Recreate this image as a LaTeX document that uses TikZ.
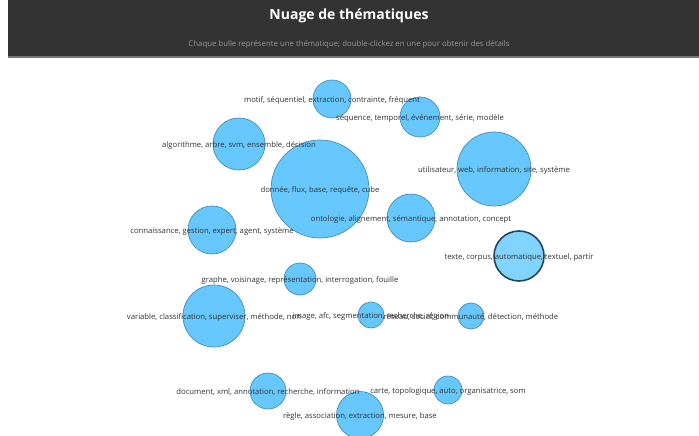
\documentclass[tikz,border=0pt]{standalone}
\usepackage{fontspec}
\setmainfont{Open Sans}
\usepackage{xcolor}
\definecolor{headerbg}{RGB}{51,51,51}
\definecolor{headerline}{RGB}{120,120,120}
\definecolor{subgray}{RGB}{150,150,150}
\definecolor{bubblefill}{RGB}{102,200,255}
\definecolor{bubbleedge}{RGB}{70,140,185}
\definecolor{activefill}{RGB}{128,212,255}
\definecolor{activeedge}{RGB}{38,70,90}
\definecolor{labelgray}{RGB}{51,51,51}

\tikzset{
  bubble/.style={circle, draw=bubbleedge, fill=bubblefill, line width=0.7pt, inner sep=0pt},
  activebubble/.style={bubble, fill=activefill, draw=activeedge, line width=1.6pt},
  themelabel/.style={font=\fontsize{7.7}{9}\selectfont, text=labelgray, inner sep=0pt,
    yshift=-1pt}
}

\begin{document}
\begin{tikzpicture}[x=1pt, y=-1pt]
    %% 1 unit = 1 px of the 699 x 436 page, y grows downwards
    \useasboundingbox (0,0) rectangle (699,436);

    % ---- HEADER ----
    \fill[headerbg] (8,0) rectangle (699,57);
    \draw[headerline, line width=1.5pt] (8,57) -- (699,57);
    \node[font=\bfseries\fontsize{14}{17}\selectfont, text=white] (title) at (349,16)
      {Nuage de thématiques};
    \node[font=\fontsize{7.8}{9}\selectfont, text=subgray] (subtitle) at (349,44)
      {Chaque bulle représente une thématique; double-clickez en une pour obtenir des détails};

    % ---- BUBBLES ----
    \node[bubble, minimum size=38] (motif)        at (332, 99)  {};
    \node[bubble, minimum size=40] (sequence)     at (420,117)  {};
    \node[bubble, minimum size=52] (algorithme)   at (239,144)  {};
    \node[bubble, minimum size=98] (donnee)       at (320,189)  {};
    \node[bubble, minimum size=74] (utilisateur)  at (494,169)  {};
    \node[bubble, minimum size=48] (ontologie)    at (411,218)  {};
    \node[bubble, minimum size=48] (connaissance) at (212,230)  {};
    \node[activebubble, minimum size=50] (texte)  at (519,256)  {};
    \node[bubble, minimum size=32] (graphe)       at (300,279)  {};
    \node[bubble, minimum size=62] (variable)     at (214,316)  {};
    \node[bubble, minimum size=26] (image)        at (371,315)  {};
    \node[bubble, minimum size=26] (reseau)       at (471,316)  {};
    \node[bubble, minimum size=36] (document)     at (268,391)  {};
    \node[bubble, minimum size=28] (carte)        at (448,390)  {};
    \node[bubble, minimum size=47] (regle)        at (360,415)  {};

    % ---- LABELS ----
    \node[themelabel] (motif-txt)        at (motif)        {motif, séquentiel, extraction, contrainte, fréquent};
    \node[themelabel] (sequence-txt)     at (sequence)     {séquence, temporel, événement, série, modèle};
    \node[themelabel] (algorithme-txt)   at (algorithme)   {algorithme, arbre, svm, ensemble, décision};
    \node[themelabel] (donnee-txt)       at (donnee)       {donnée, flux, base, requête, cube};
    \node[themelabel] (utilisateur-txt)  at (utilisateur)  {utilisateur, web, information, site, système};
    \node[themelabel] (ontologie-txt)    at (ontologie)    {ontologie, alignement, sémantique, annotation, concept};
    \node[themelabel] (connaissance-txt) at (connaissance) {connaissance, gestion, expert, agent, système};
    \node[themelabel] (texte-txt)        at (texte)        {texte, corpus, automatique, textuel, partir};
    \node[themelabel] (graphe-txt)       at (graphe)       {graphe, voisinage, représentation, interrogation, fouille};
    \node[themelabel] (variable-txt)     at (variable)     {variable, classification, superviser, méthode, non};
    \node[themelabel] (image-txt)        at (image)        {image, afc, segmentation, recherche, région};
    \node[themelabel] (reseau-txt)       at (reseau)       {réseau, social, communauté, détection, méthode};
    \node[themelabel] (document-txt)     at (document)     {document, xml, annotation, recherche, information};
    \node[themelabel] (carte-txt)        at (carte)        {carte, topologique, auto, organisatrice, som};
    \node[themelabel] (regle-txt)        at (regle)        {règle, association, extraction, mesure, base};

  \end{tikzpicture}
\end{document}
